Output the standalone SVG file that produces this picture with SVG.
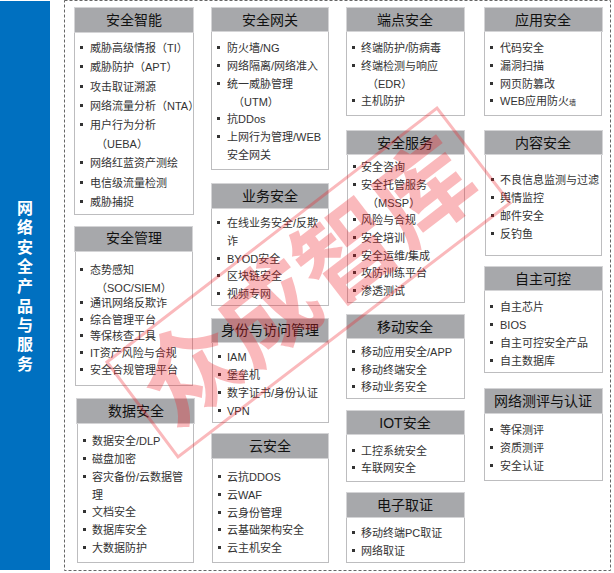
<svg xmlns="http://www.w3.org/2000/svg" width="614" height="573" viewBox="0 0 614 573">
<style>
text{font-family:"Liberation Sans","Noto Sans CJK SC",sans-serif}
.c{fill:#fff;stroke:#bdbdbf;stroke-width:1}
.h{fill:#a7a8ab;stroke:#d4d4d6;stroke-width:1}
.t{font-size:14px;fill:#111;text-anchor:middle}
.i{font-size:11px;fill:#333}
.b{fill:#333}
</style>
<defs><rect id="b" width="3" height="3" class="b"/></defs>
<rect x="0" y="1" width="50" height="569" fill="#0070c0"/>
<rect x="64.500" y="0.500" width="546" height="570" fill="#fff" stroke="#666" stroke-dasharray="3 2"/>
<g id="title"><text x="25" y="0" font-size="16" font-weight="bold" fill="#fff" text-anchor="middle"><tspan x="25" y="214">网</tspan><tspan x="25" y="233">络</tspan><tspan x="25" y="253">安</tspan><tspan x="25" y="272">全</tspan><tspan x="25" y="292">产</tspan><tspan x="25" y="312">品</tspan><tspan x="25" y="331">与</tspan><tspan x="25" y="350">服</tspan><tspan x="25" y="370">务</tspan></text></g>

<g id="n1"><rect class="c" x="74.500" y="32.500" width="119" height="182"/><rect class="h" x="74.500" y="7.500" width="119" height="25"/><text class="t" x="134" y="25">安全智能</text>
<use href="#b" x="80" y="46"/><text class="i" x="90" y="52">威胁高级情报（TI）</text>
<use href="#b" x="80" y="65"/><text class="i" x="90" y="71">威胁防护（APT）</text>
<use href="#b" x="80" y="85"/><text class="i" x="90" y="91">攻击取证溯源</text>
<use href="#b" x="80" y="104"/><text class="i" x="90" y="110">网络流量分析（NTA）</text>
<use href="#b" x="80" y="123"/><text class="i" x="90" y="129">用户行为分析</text>
<text class="i" x="96" y="148">（UEBA）</text>
<use href="#b" x="80" y="161"/><text class="i" x="90" y="167">网络红蓝资产测绘</text>
<use href="#b" x="80" y="181"/><text class="i" x="90" y="187">电信级流量检测</text>
<use href="#b" x="80" y="200"/><text class="i" x="90" y="206">威胁捕捉</text></g>

<g id="n2"><rect class="c" x="75.500" y="251.500" width="117" height="134"/><rect class="h" x="74.500" y="226.500" width="118" height="25"/><text class="t" x="134" y="243">安全管理</text>
<use href="#b" x="80" y="268"/><text class="i" x="90" y="274">态势感知</text>
<text class="i" x="96" y="292">（SOC/SIEM）</text>
<use href="#b" x="80" y="301"/><text class="i" x="90" y="307">通讯网络反欺诈</text>
<use href="#b" x="80" y="318"/><text class="i" x="90" y="324">综合管理平台</text>
<use href="#b" x="80" y="334"/><text class="i" x="90" y="340">等保核查工具</text>
<use href="#b" x="80" y="351"/><text class="i" x="90" y="357">IT资产风险与合规</text>
<use href="#b" x="80" y="368"/><text class="i" x="90" y="374">安全合规管理平台</text></g>

<g id="n3"><rect class="c" x="77.500" y="423.500" width="116" height="139"/><rect class="h" x="76.500" y="398.500" width="118" height="25"/><text class="t" x="136" y="416">数据安全</text>
<use href="#b" x="83" y="439"/><text class="i" x="92" y="445">数据安全/DLP</text>
<use href="#b" x="83" y="457"/><text class="i" x="92" y="463">磁盘加密</text>
<use href="#b" x="83" y="475"/><text class="i" x="92" y="481">容灾备份/云数据管</text>
<text class="i" x="92" y="499">理</text>
<use href="#b" x="83" y="510"/><text class="i" x="92" y="516">文档安全</text>
<use href="#b" x="83" y="528"/><text class="i" x="92" y="534">数据库安全</text>
<use href="#b" x="83" y="546"/><text class="i" x="92" y="552">大数据防护</text></g>

<g id="n4"><rect class="c" x="211.500" y="31.500" width="117" height="138"/><rect class="h" x="211.500" y="7.500" width="117" height="24"/><text class="t" x="270" y="25">安全网关</text>
<use href="#b" x="217" y="46"/><text class="i" x="227" y="52">防火墙/NG</text>
<use href="#b" x="217" y="64"/><text class="i" x="227" y="70">网络隔离/网络准入</text>
<use href="#b" x="217" y="82"/><text class="i" x="227" y="88">统一威胁管理</text>
<text class="i" x="233" y="106">（UTM）</text>
<use href="#b" x="217" y="117"/><text class="i" x="227" y="123">抗DDos</text>
<use href="#b" x="217" y="135"/><text class="i" x="227" y="141">上网行为管理/WEB</text>
<text class="i" x="227" y="159">安全网关</text></g>

<g id="n5"><rect class="c" x="211.500" y="208.500" width="117" height="97"/><rect class="h" x="211.500" y="183.500" width="117" height="25"/><text class="t" x="270" y="201">业务安全</text>
<use href="#b" x="217" y="221"/><text class="i" x="227" y="227">在线业务安全/反欺</text>
<text class="i" x="227" y="245">诈</text>
<use href="#b" x="217" y="257"/><text class="i" x="227" y="263">BYOD安全</text>
<use href="#b" x="217" y="274"/><text class="i" x="227" y="280">区块链安全</text>
<use href="#b" x="217" y="292"/><text class="i" x="227" y="298">视频专网</text></g>

<g id="n6"><rect class="c" x="212.500" y="342.500" width="116" height="80"/><rect class="h" x="211.500" y="318.500" width="117" height="24"/><text class="t" x="270" y="335">身份与访问管理</text>
<use href="#b" x="218" y="355"/><text class="i" x="227" y="361">IAM</text>
<use href="#b" x="218" y="373"/><text class="i" x="227" y="379">堡垒机</text>
<use href="#b" x="218" y="391"/><text class="i" x="227" y="397">数字证书/身份认证</text>
<use href="#b" x="218" y="409"/><text class="i" x="227" y="415">VPN</text></g>

<g id="n7"><rect class="c" x="212.500" y="458.500" width="116" height="104"/><rect class="h" x="211.500" y="433.500" width="117" height="25"/><text class="t" x="270" y="451">云安全</text>
<use href="#b" x="218" y="475"/><text class="i" x="227" y="481">云抗DDOS</text>
<use href="#b" x="218" y="493"/><text class="i" x="227" y="499">云WAF</text>
<use href="#b" x="218" y="511"/><text class="i" x="227" y="517">云身份管理</text>
<use href="#b" x="218" y="528"/><text class="i" x="227" y="534">云基础架构安全</text>
<use href="#b" x="218" y="546"/><text class="i" x="227" y="552">云主机安全</text></g>

<g id="n8"><rect class="c" x="346.500" y="31.500" width="118" height="84"/><rect class="h" x="346.500" y="7.500" width="118" height="24"/><text class="t" x="405" y="25">端点安全</text>
<use href="#b" x="352" y="46"/><text class="i" x="361" y="52">终端防护/防病毒</text>
<use href="#b" x="352" y="64"/><text class="i" x="361" y="70">终端检测与响应</text>
<text class="i" x="367" y="88">（EDR）</text>
<use href="#b" x="352" y="99"/><text class="i" x="361" y="105">主机防护</text></g>

<g id="n9"><rect class="c" x="347.500" y="154.500" width="117" height="148"/><rect class="h" x="346.500" y="130.500" width="118" height="24"/><text class="t" x="405" y="148">安全服务</text>
<use href="#b" x="353" y="165"/><text class="i" x="361" y="171">安全咨询</text>
<use href="#b" x="353" y="183"/><text class="i" x="361" y="189">安全托管服务</text>
<text class="i" x="367" y="207">（MSSP）</text>
<use href="#b" x="353" y="218"/><text class="i" x="361" y="224">风险与合规</text>
<use href="#b" x="353" y="236"/><text class="i" x="361" y="242">安全培训</text>
<use href="#b" x="353" y="254"/><text class="i" x="361" y="260">安全运维/集成</text>
<use href="#b" x="353" y="271"/><text class="i" x="361" y="277">攻防训练平台</text>
<use href="#b" x="353" y="289"/><text class="i" x="361" y="295">渗透测试</text></g>

<g id="n10"><rect class="c" x="346.500" y="338.500" width="118" height="60"/><rect class="h" x="346.500" y="314.500" width="118" height="24"/><text class="t" x="405" y="332">移动安全</text>
<use href="#b" x="352" y="350"/><text class="i" x="361" y="356">移动应用安全/APP</text>
<use href="#b" x="352" y="368"/><text class="i" x="361" y="374">移动终端安全</text>
<use href="#b" x="352" y="385"/><text class="i" x="361" y="391">移动业务安全</text></g>

<g id="n11"><rect class="c" x="346.500" y="434.500" width="118" height="47"/><rect class="h" x="346.500" y="410.500" width="118" height="24"/><text class="t" x="405" y="428">IOT安全</text>
<use href="#b" x="352" y="449"/><text class="i" x="361" y="455">工控系统安全</text>
<use href="#b" x="352" y="466"/><text class="i" x="361" y="472">车联网安全</text></g>

<g id="n12"><rect class="c" x="346.500" y="517.500" width="118" height="45"/><rect class="h" x="346.500" y="492.500" width="118" height="25"/><text class="t" x="405" y="510">电子取证</text>
<use href="#b" x="352" y="531"/><text class="i" x="361" y="537">移动终端PC取证</text>
<use href="#b" x="352" y="549"/><text class="i" x="361" y="555">网络取证</text></g>

<g id="n13"><rect class="c" x="484.500" y="31.500" width="117" height="84"/><rect class="h" x="484.500" y="7.500" width="118" height="24"/><text class="t" x="543" y="25">应用安全</text>
<use href="#b" x="490" y="46"/><text class="i" x="500" y="52">代码安全</text>
<use href="#b" x="490" y="64"/><text class="i" x="500" y="70">漏洞扫描</text>
<use href="#b" x="490" y="82"/><text class="i" x="500" y="88">网页防篡改</text>
<use href="#b" x="490" y="99"/><text class="i" x="500" y="105">WEB应用防火<tspan font-size="7">墙</tspan></text></g>

<g id="n14"><rect class="c" x="485.500" y="154.500" width="116" height="101"/><rect class="h" x="484.500" y="130.500" width="118" height="24"/><text class="t" x="543" y="148">内容安全</text>
<use href="#b" x="491" y="178"/><text class="i" x="500" y="184">不良信息监测与过滤</text>
<use href="#b" x="491" y="196"/><text class="i" x="500" y="202">舆情监控</text>
<use href="#b" x="491" y="214"/><text class="i" x="500" y="220">邮件安全</text>
<use href="#b" x="491" y="232"/><text class="i" x="500" y="238">反钓鱼</text></g>

<g id="n15"><rect class="c" x="484.500" y="290.500" width="118" height="82"/><rect class="h" x="484.500" y="266.500" width="118" height="24"/><text class="t" x="543" y="284">自主可控</text>
<use href="#b" x="490" y="305"/><text class="i" x="500" y="311">自主芯片</text>
<use href="#b" x="490" y="323"/><text class="i" x="500" y="329">BIOS</text>
<use href="#b" x="490" y="341"/><text class="i" x="500" y="347">自主可控安全产品</text>
<use href="#b" x="490" y="359"/><text class="i" x="500" y="365">自主数据库</text></g>

<g id="n16"><rect class="c" x="484.500" y="413.500" width="118" height="67"/><rect class="h" x="484.500" y="388.500" width="118" height="25"/><text class="t" x="543" y="406">网络测评与认证</text>
<use href="#b" x="490" y="428"/><text class="i" x="500" y="434">等保测评</text>
<use href="#b" x="490" y="446"/><text class="i" x="500" y="452">资质测评</text>
<use href="#b" x="490" y="464"/><text class="i" x="500" y="470">安全认证</text></g>

<g id="watermark" opacity="0.3">
<polygon points="107,362 437,108 510,203 178,457" fill="none" stroke="#f01c24" stroke-width="3"/>
<text x="0" y="0" transform="translate(308,283) rotate(-37.500)" font-size="98" font-weight="bold" fill="#f01c24" text-anchor="middle" dominant-baseline="central">众成智库</text>
</g>
</svg>
